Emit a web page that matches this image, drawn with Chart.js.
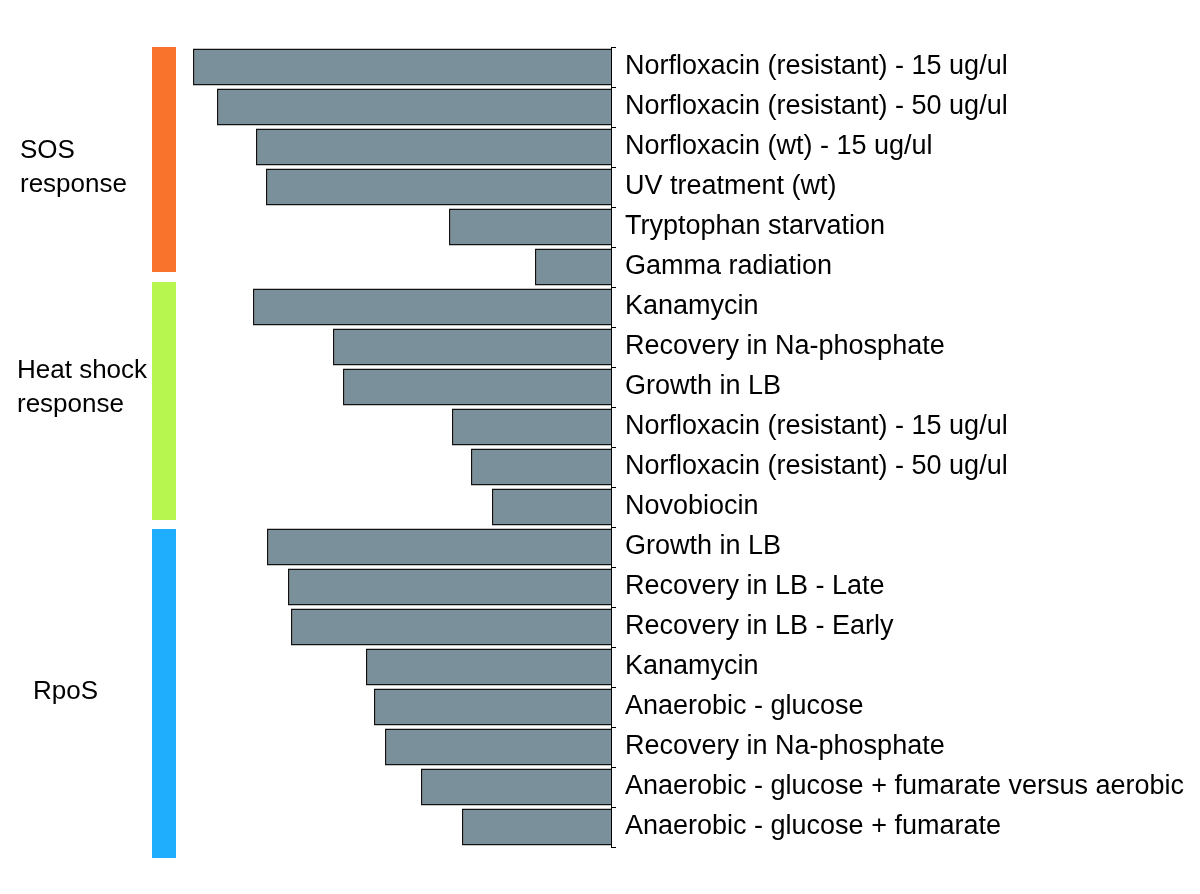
<!DOCTYPE html>
<html>
<head>
<meta charset="utf-8">
<script src="https://cdn.jsdelivr.net/npm/chart.js@4"></script>
<style>
  body { margin: 0; background: #fff; }
  #wrap { width: 1200px; height: 894px; }
</style>
</head>
<body>
<div id="wrap"><canvas id="bar" width="1200" height="894"></canvas></div>
<script>
// 条件ラベル（上から）
const conditions = [
  'Norfloxacin (resistant) - 15 ug/ul',
  'Norfloxacin (resistant) - 50 ug/ul',
  'Norfloxacin (wt) - 15 ug/ul',
  'UV treatment (wt)',
  'Tryptophan starvation',
  'Gamma radiation',
  'Kanamycin',
  'Recovery in Na-phosphate',
  'Growth in LB',
  'Norfloxacin (resistant) - 15 ug/ul',
  'Norfloxacin (resistant) - 50 ug/ul',
  'Novobiocin',
  'Growth in LB',
  'Recovery in LB - Late',
  'Recovery in LB - Early',
  'Kanamycin',
  'Anaerobic - glucose',
  'Recovery in Na-phosphate',
  'Anaerobic - glucose + fumarate versus aerobic',
  'Anaerobic - glucose + fumarate'
]

// バーの値（ピクセル長から読み取り）
const scores = [418, 394, 355, 345, 162, 76, 358, 278, 268, 159, 140, 119, 344, 323, 320, 245, 237, 226, 190, 149]

// グループ（名前, 表示行, 範囲, 色）
const groupNames = [['SOS', 'response'], ['Heat shock', 'response'], ['RpoS']]
const groupFrom = [-0.5, 5.375, 11.55]
const groupTo = [5.125, 11.325, 19.775]
const groupColors = ['#f9732d', '#b6f64f', '#1eaefd']
const groupLabelX = [20, 17, 33]
const groupLabelY = [158, 378, 699]

// グループの色帯とラベルを描くプラグイン
const groupPlugin = {
  id: 'groups',
  afterDraw(chart) {
    const ctx = chart.ctx
    const y = chart.scales.y
    ctx.save()
    for (let i = 0; i < groupNames.length; i++) {
      const top = y.getPixelForValue(groupFrom[i])
      const bottom = y.getPixelForValue(groupTo[i])
      ctx.fillStyle = groupColors[i]
      ctx.fillRect(152, top, 24, bottom - top)
      ctx.fillStyle = '#000'
      ctx.font = '26px "Liberation Sans", Arial, sans-serif'
      ctx.textBaseline = 'alphabetic'
      groupNames[i].forEach(function (line, k) {
        ctx.fillText(line, groupLabelX[i], groupLabelY[i] + k * 34)
      })
    }
    ctx.restore()
  }
}

// 横棒グラフ生成
let bar = document.getElementById('bar').getContext('2d')
let barChart = new Chart(bar, {
  type: 'bar',
  data: {
    labels: conditions,
    datasets: [{
      data: scores,
      backgroundColor: '#7a909a',
      borderColor: '#111',
      borderWidth: 1.6,
      borderSkipped: 'start',
      barPercentage: 0.93,
      categoryPercentage: 1
    }]
  },
  options: {
    indexAxis: 'y',
    responsive: false,
    animation: false,
    layout: { padding: { left: 186, top: 47, bottom: 47, right: 0 } },
    plugins: { legend: { display: false }, tooltip: { enabled: false } },
    scales: {
      x: {
        reverse: true,
        min: 0,
        max: 425,
        display: false
      },
      y: {
        position: 'right',
        afterFit(scale) { scale.width = 589 },
        border: { display: true, color: '#000', width: 1 },
        grid: { offset: true, drawOnChartArea: false, tickLength: 5, color: '#000' },
        ticks: {
          color: '#000',
          padding: 9,
          font: { family: '"Liberation Sans", Arial, sans-serif', size: 27 }
        }
      }
    }
  },
  plugins: [groupPlugin]
})
</script>
</body>
</html>
